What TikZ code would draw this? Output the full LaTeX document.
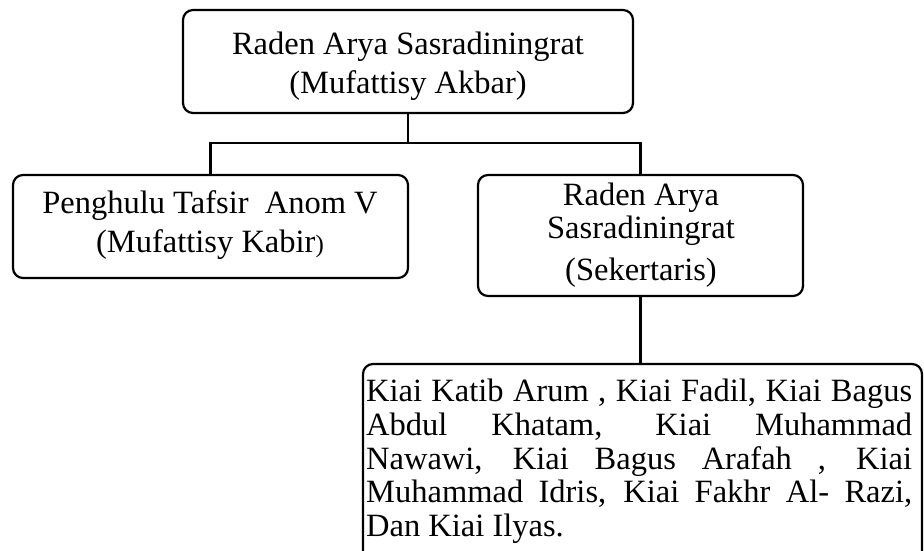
\documentclass[tikz,border=0pt]{standalone}
\usepackage{fontspec}
\setmainfont{Liberation Serif}
\begin{document}
\begin{tikzpicture}[x=1pt,y=-1pt,
  box/.style={draw, line width=2.2pt, rounded corners=10pt, inner sep=0pt},
  lbl/.style={anchor=base, inner sep=0pt, font=\fontsize{32.5}{38}\selectfont},
  conn/.style={line width=2.2pt}]
\useasboundingbox (0,0) rectangle (924,551);
\clip (0,0) rectangle (924,551);
% boxes
\node[box, minimum width=450pt, minimum height=103pt] (top) at (408,61.5) {};
\node[box, minimum width=395pt, minimum height=103pt] (left) at (210.5,226.5) {};
\node[box, minimum width=325pt, minimum height=121pt] (right) at (640.5,235.5) {};
\node[box, minimum width=559pt, minimum height=204pt] (bot) at (642.5,466) {};
% texts
\node[lbl] (t1) at (408,55) {Raden Arya Sasradiningrat};
\node[lbl] (t2) at (408,94) {(Mufattisy Akbar)};
\node[lbl] (l1) at (210,213) {Penghulu Tafsir\ \ Anom V};
\node[lbl] (l2) at (210,252) {(Mufattisy Kabir{\fontsize{25}{25}\selectfont )}};
\node[lbl] (r1) at (641,205) {Raden Arya};
\node[lbl] (r2) at (641,238) {Sasradiningrat};
\node[lbl] (r3) at (641,280) {(Sekertaris)};
\node[lbl, anchor=base west] (b1) at (366,401) {\makebox[546pt][s]{Kiai Katib Arum , Kiai Fadil, Kiai Bagus}};
\node[lbl, anchor=base west] (b2) at (366,435) {\makebox[546pt][s]{Abdul Khatam, Kiai Muhammad}};
\node[lbl, anchor=base west] (b3) at (366,469) {\makebox[546pt][s]{Nawawi, Kiai Bagus Arafah , Kiai}};
\node[lbl, anchor=base west] (b4) at (366,502) {\makebox[546pt][s]{Muhammad Idris, Kiai Fakhr Al- Razi,}};
\node[lbl, anchor=base west] (b5) at (366,536) {Dan Kiai Ilyas.};
% connectors
\coordinate (j) at (408,143);
\draw[conn] (top.south) -- (j);
\draw[conn] (left.north) |- (j) -| (right.north);
\draw[conn] (right.south) -- (right.south |- bot.north);
\end{tikzpicture}
\end{document}
